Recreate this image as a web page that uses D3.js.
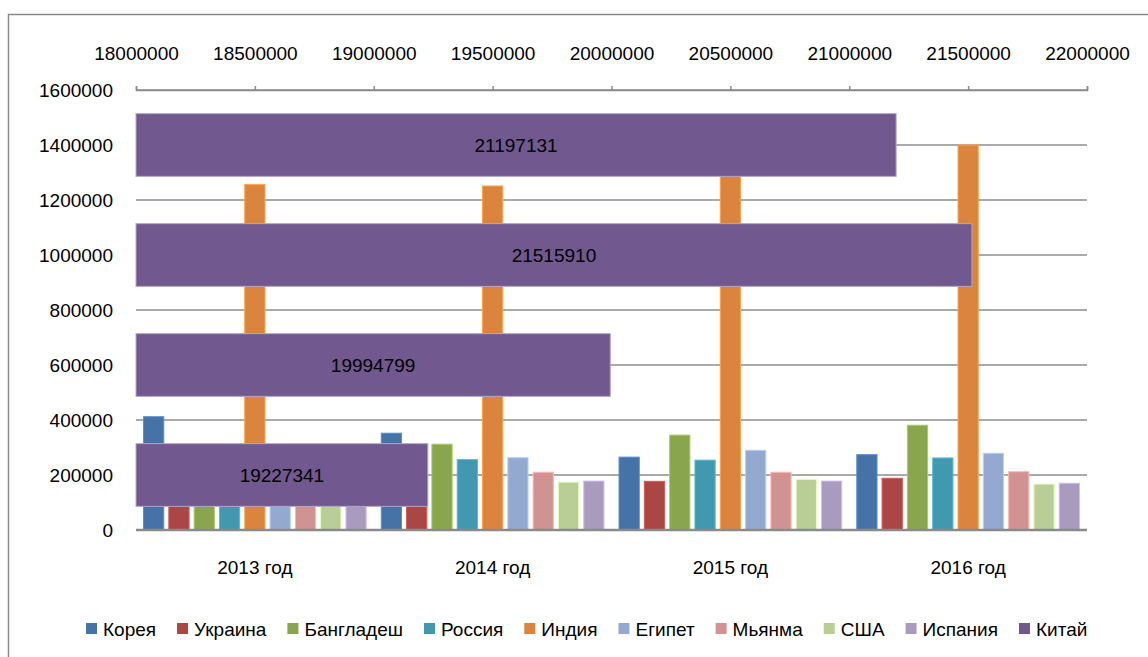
<!DOCTYPE html>
<html>
<head>
<meta charset="utf-8">
<script src="https://cdn.jsdelivr.net/npm/d3@7"></script>
<style>
  html, body { margin: 0; padding: 0; background: #fff; }
  svg { display: block; font-family: "Liberation Sans", Arial, sans-serif; }
</style>
</head>
<body>
<div id="chart"></div>
<script>
/* ── data ───────────────────────────────────────────────────── */
const years     = ['2013 год', '2014 год', '2015 год', '2016 год'];
const countries = ['Корея', 'Украина', 'Бангладеш', 'Россия', 'Индия',
                   'Египет', 'Мьянма', 'США', 'Испания'];

const korea      = [412000, 352000, 265000, 274000];
const ukraine    = [230000, 200000, 177000, 188000];
const bangladesh = [290000, 312000, 345000, 381000];
const russia     = [255000, 256000, 254000, 262000];
const india      = [1257000, 1251000, 1350000, 1400000];
const egypt      = [280000, 263000, 290000, 279000];
const myanmar    = [205000, 210000, 210000, 212000];
const usa        = [180000, 174000, 184000, 167000];
const spain      = [178000, 178000, 178000, 170000];
const china      = [19227341, 19994799, 21515910, 21197131];

const yTicks  = [0, 200000, 400000, 600000, 800000, 1000000, 1200000, 1400000, 1600000];
const x2Ticks = [18000000, 18500000, 19000000, 19500000, 20000000,
                 20500000, 21000000, 21500000, 22000000];

const seriesVals = [korea, ukraine, bangladesh, russia, india, egypt, myanmar, usa, spain];
const colors = ['#4673a7', '#aa4643', '#89a54e', '#4198af', '#db843d',
                '#93a9cf', '#d19392', '#b9cd96', '#a99bbd'];
const chinaColor = '#71588f';

/* ── layout ─────────────────────────────────────────────────── */
const W = 1148, H = 657;
const PL = 136, PR = 1087, PT = 90, PB = 530;
const FS = 19;

const svg = d3.select('#chart').append('svg').attr('width', W).attr('height', H);

// outer chart border
svg.append('rect')
  .attr('x', 8.5).attr('y', 14.5).attr('width', 1200).attr('height', 700)
  .attr('fill', 'none').attr('stroke', '#8a8a8a').attr('stroke-width', 1.5);

const y = d3.scaleLinear().domain([0, 1600000]).range([PB, PT]);
const x0 = d3.scaleBand().domain(years).range([PL, PR]);
const x1 = d3.scaleBand().domain(countries)
  .range([5, x0.bandwidth() - 5]).paddingInner(0.2).paddingOuter(0.1);

const xs = d3.scaleLinear().domain([18000000, 22000000]).range([PL, PR]);
const ys = d3.scaleBand().domain(years.slice().reverse())
  .range([PT, PB]).paddingInner(0.43).paddingOuter(0.215);

// ── gridlines ─────────────────────────────────────────────────
svg.append('g').selectAll('line')
  .data(yTicks.filter(d => d > 0))
  .join('line')
  .attr('x1', PL).attr('x2', PR)
  .attr('y1', d => y(d)).attr('y2', d => y(d))
  .attr('stroke', '#8c8c8c').attr('stroke-width', 1.5);

// left axis labels
const yAxisG = svg.append('g').attr('transform', `translate(${PL},0)`)
  .call(d3.axisLeft(y).tickValues(yTicks).tickSize(0).tickPadding(23)
    .tickFormat(d3.format('d')));
yAxisG.select('.domain').remove();
yAxisG.selectAll('text').attr('font-size', FS).attr('fill', '#000')
  .attr('font-family', '"Liberation Sans", Arial, sans-serif');

// top (secondary) axis
const x2AxisG = svg.append('g').attr('transform', `translate(0,${PT})`)
  .call(d3.axisTop(xs).tickValues(x2Ticks).tickSize(4).tickSizeOuter(4)
    .tickPadding(26).tickFormat(d3.format('d')));
x2AxisG.select('.domain').attr('stroke', '#8a8a8a').attr('stroke-width', 1.5);
x2AxisG.selectAll('.tick line').attr('stroke', '#8a8a8a').attr('stroke-width', 1.5);
x2AxisG.selectAll('text').attr('font-size', FS).attr('fill', '#000')
  .attr('font-family', '"Liberation Sans", Arial, sans-serif');

// ── columns ───────────────────────────────────────────────────
const groups = svg.append('g').selectAll('g')
  .data(years)
  .join('g')
  .attr('transform', d => `translate(${x0(d)},0)`);

groups.selectAll('rect')
  .data((yr, yi) => countries.map((c, ci) => ({ c, ci, v: seriesVals[ci][yi] })))
  .join('rect')
  .attr('x', d => x1(d.c))
  .attr('width', x1.bandwidth())
  .attr('y', d => y(d.v))
  .attr('height', d => PB - y(d.v))
  .attr('fill', d => colors[d.ci])
  .attr('stroke', d => d3.color(colors[d.ci]).brighter(0.6))
  .attr('stroke-width', 1);

// baseline
svg.append('line')
  .attr('x1', PL).attr('x2', PR).attr('y1', PB).attr('y2', PB)
  .attr('stroke', '#8a8a8a').attr('stroke-width', 2.5);

// category labels
svg.append('g').selectAll('text')
  .data(years)
  .join('text')
  .attr('x', d => x0(d) + x0.bandwidth() / 2)
  .attr('y', 574)
  .attr('text-anchor', 'middle')
  .attr('font-size', FS)
  .text(d => d);

// ── China bars (secondary axes) ───────────────────────────────
const chinaG = svg.append('g');
chinaG.selectAll('rect')
  .data(years.map((yr, i) => ({ yr, v: china[i] })))
  .join('rect')
  .attr('x', PL)
  .attr('y', d => ys(d.yr))
  .attr('width', d => xs(d.v) - PL)
  .attr('height', ys.bandwidth())
  .attr('fill', chinaColor)
  .attr('stroke', '#b3a6c6').attr('stroke-width', 1);

chinaG.selectAll('text')
  .data(years.map((yr, i) => ({ yr, v: china[i] })))
  .join('text')
  .attr('x', d => (PL + xs(d.v)) / 2)
  .attr('y', d => ys(d.yr) + ys.bandwidth() / 2)
  .attr('dy', '0.35em')
  .attr('text-anchor', 'middle')
  .attr('font-size', FS)
  .attr('fill', '#000')
  .text(d => d.v);

// ── legend ────────────────────────────────────────────────────
const legendItems = countries.map((c, i) => ({ c, col: colors[i] }))
  .concat([{ c: 'Китай', col: chinaColor }]);

const legend = svg.append('g');
let lx = 86;
legendItems.forEach(it => {
  const g = legend.append('g').attr('transform', `translate(${lx},629)`);
  g.append('rect').attr('x', 0).attr('y', -6).attr('width', 11).attr('height', 11)
    .attr('fill', it.col);
  const t = g.append('text').attr('x', 17).attr('y', 0).attr('dy', '0.35em')
    .attr('font-size', FS).text(it.c);
  lx += 17 + t.node().getComputedTextLength() + 21;
});
</script>
</body>
</html>
